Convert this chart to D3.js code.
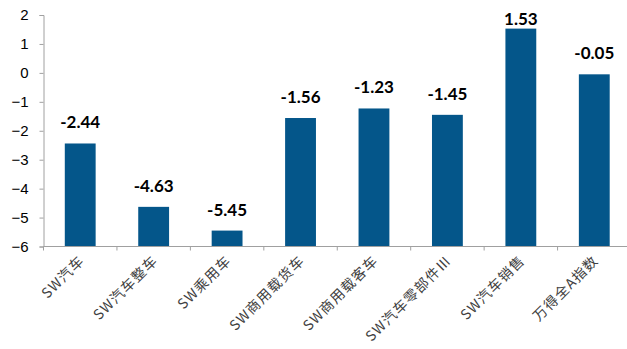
<!DOCTYPE html>
<meta charset="utf-8">
<style>
  body { margin: 0; background: #fff; }
</style>
<script src="https://d3js.org/d3.v7.min.js"></script>
<div id="chart"></div>
<script>
  var categories = ["SW汽车", "SW汽车整车", "SW乘用车", "SW商用载货车", "SW商用载客车", "SW汽车零部件Ⅲ", "SW汽车销售", "万得全A指数"]
  var values = [-2.44, -4.63, -5.45, -1.56, -1.23, -1.45, 1.53, -0.05]
  var yTicks = [2, 1, 0, -1, -2, -3, -4, -5, -6]

  var width = 627, height = 349

  var svg = d3.select("#chart").append("svg")
    .attr("width", width)
    .attr("height", height)

  var x = d3.scaleBand()
    .domain(categories)
    .range([43.5, 631])
    .paddingInner(0.58)
    .paddingOuter(0.29)

  var y = d3.scaleLinear()
    .domain([-6, 2])
    .range([246.5, 15])

  // bars from the bottom of the axis
  svg.selectAll(".bar")
    .data(values)
    .enter().append("rect")
      .attr("x", function(d, i) { return x(categories[i]) })
      .attr("width", x.bandwidth())
      .attr("y", function(d) { return y(d) })
      .attr("height", function(d) { return y(-6) - y(d) })
      .attr("fill", "#04568a")

  // value labels
  svg.selectAll(".val")
    .data(values)
    .enter().append("text")
      .attr("x", function(d, i) { return x(categories[i]) + x.bandwidth() / 2 })
      .attr("y", function(d) { return Math.max(y(d) - 15, 25) })
      .attr("text-anchor", "middle")
      .style("font-family", "Lato, 'DejaVu Sans', sans-serif")
      .style("font-weight", "bold")
      .style("font-size", "17px")
      .style("fill", "#000")
      .text(function(d) { return d.toFixed(2) })

  // y axis
  var yAxis = d3.axisLeft(y).tickValues(yTicks).tickSize(4).tickFormat(d3.format("d"))
  var gy = svg.append("g")
    .attr("transform", "translate(43.5,0)")
    .call(yAxis)
  gy.select(".domain").attr("stroke", "#a0a0a0")
  gy.selectAll(".tick line").attr("stroke", "#a0a0a0")
  gy.selectAll(".tick text")
    .attr("x", -15)
    .style("font-family", "'Liberation Sans', Arial, sans-serif")
    .style("font-size", "15px")
    .style("fill", "#000")

  // x axis
  var step = x.step()
  var gx = svg.append("g")
    .attr("transform", "translate(0," + y(-6) + ")")
  gx.append("line")
    .attr("x1", 43.5).attr("x2", width)
    .attr("stroke", "#a0a0a0")
  gx.selectAll(".xt")
    .data(d3.range(categories.length + 1))
    .enter().append("line")
      .attr("x1", function(i) { return 43.5 + i * step })
      .attr("x2", function(i) { return 43.5 + i * step })
      .attr("y1", 0).attr("y2", 4)
      .attr("stroke", "#a0a0a0")

  svg.selectAll(".cat")
    .data(categories)
    .enter().append("text")
      .attr("transform", function(d) {
        return "translate(" + (x(d) + x.bandwidth() / 2 + 5) + "," + (y(-6) + 15) + ") rotate(-45)"
      })
      .attr("text-anchor", "end")
      .style("font-family", "'Noto Sans CJK SC', sans-serif")
      .style("font-size", "14px")
      .style("letter-spacing", "1.2px")
      .style("fill", "#404040")
      .text(function(d) { return d })
</script>
